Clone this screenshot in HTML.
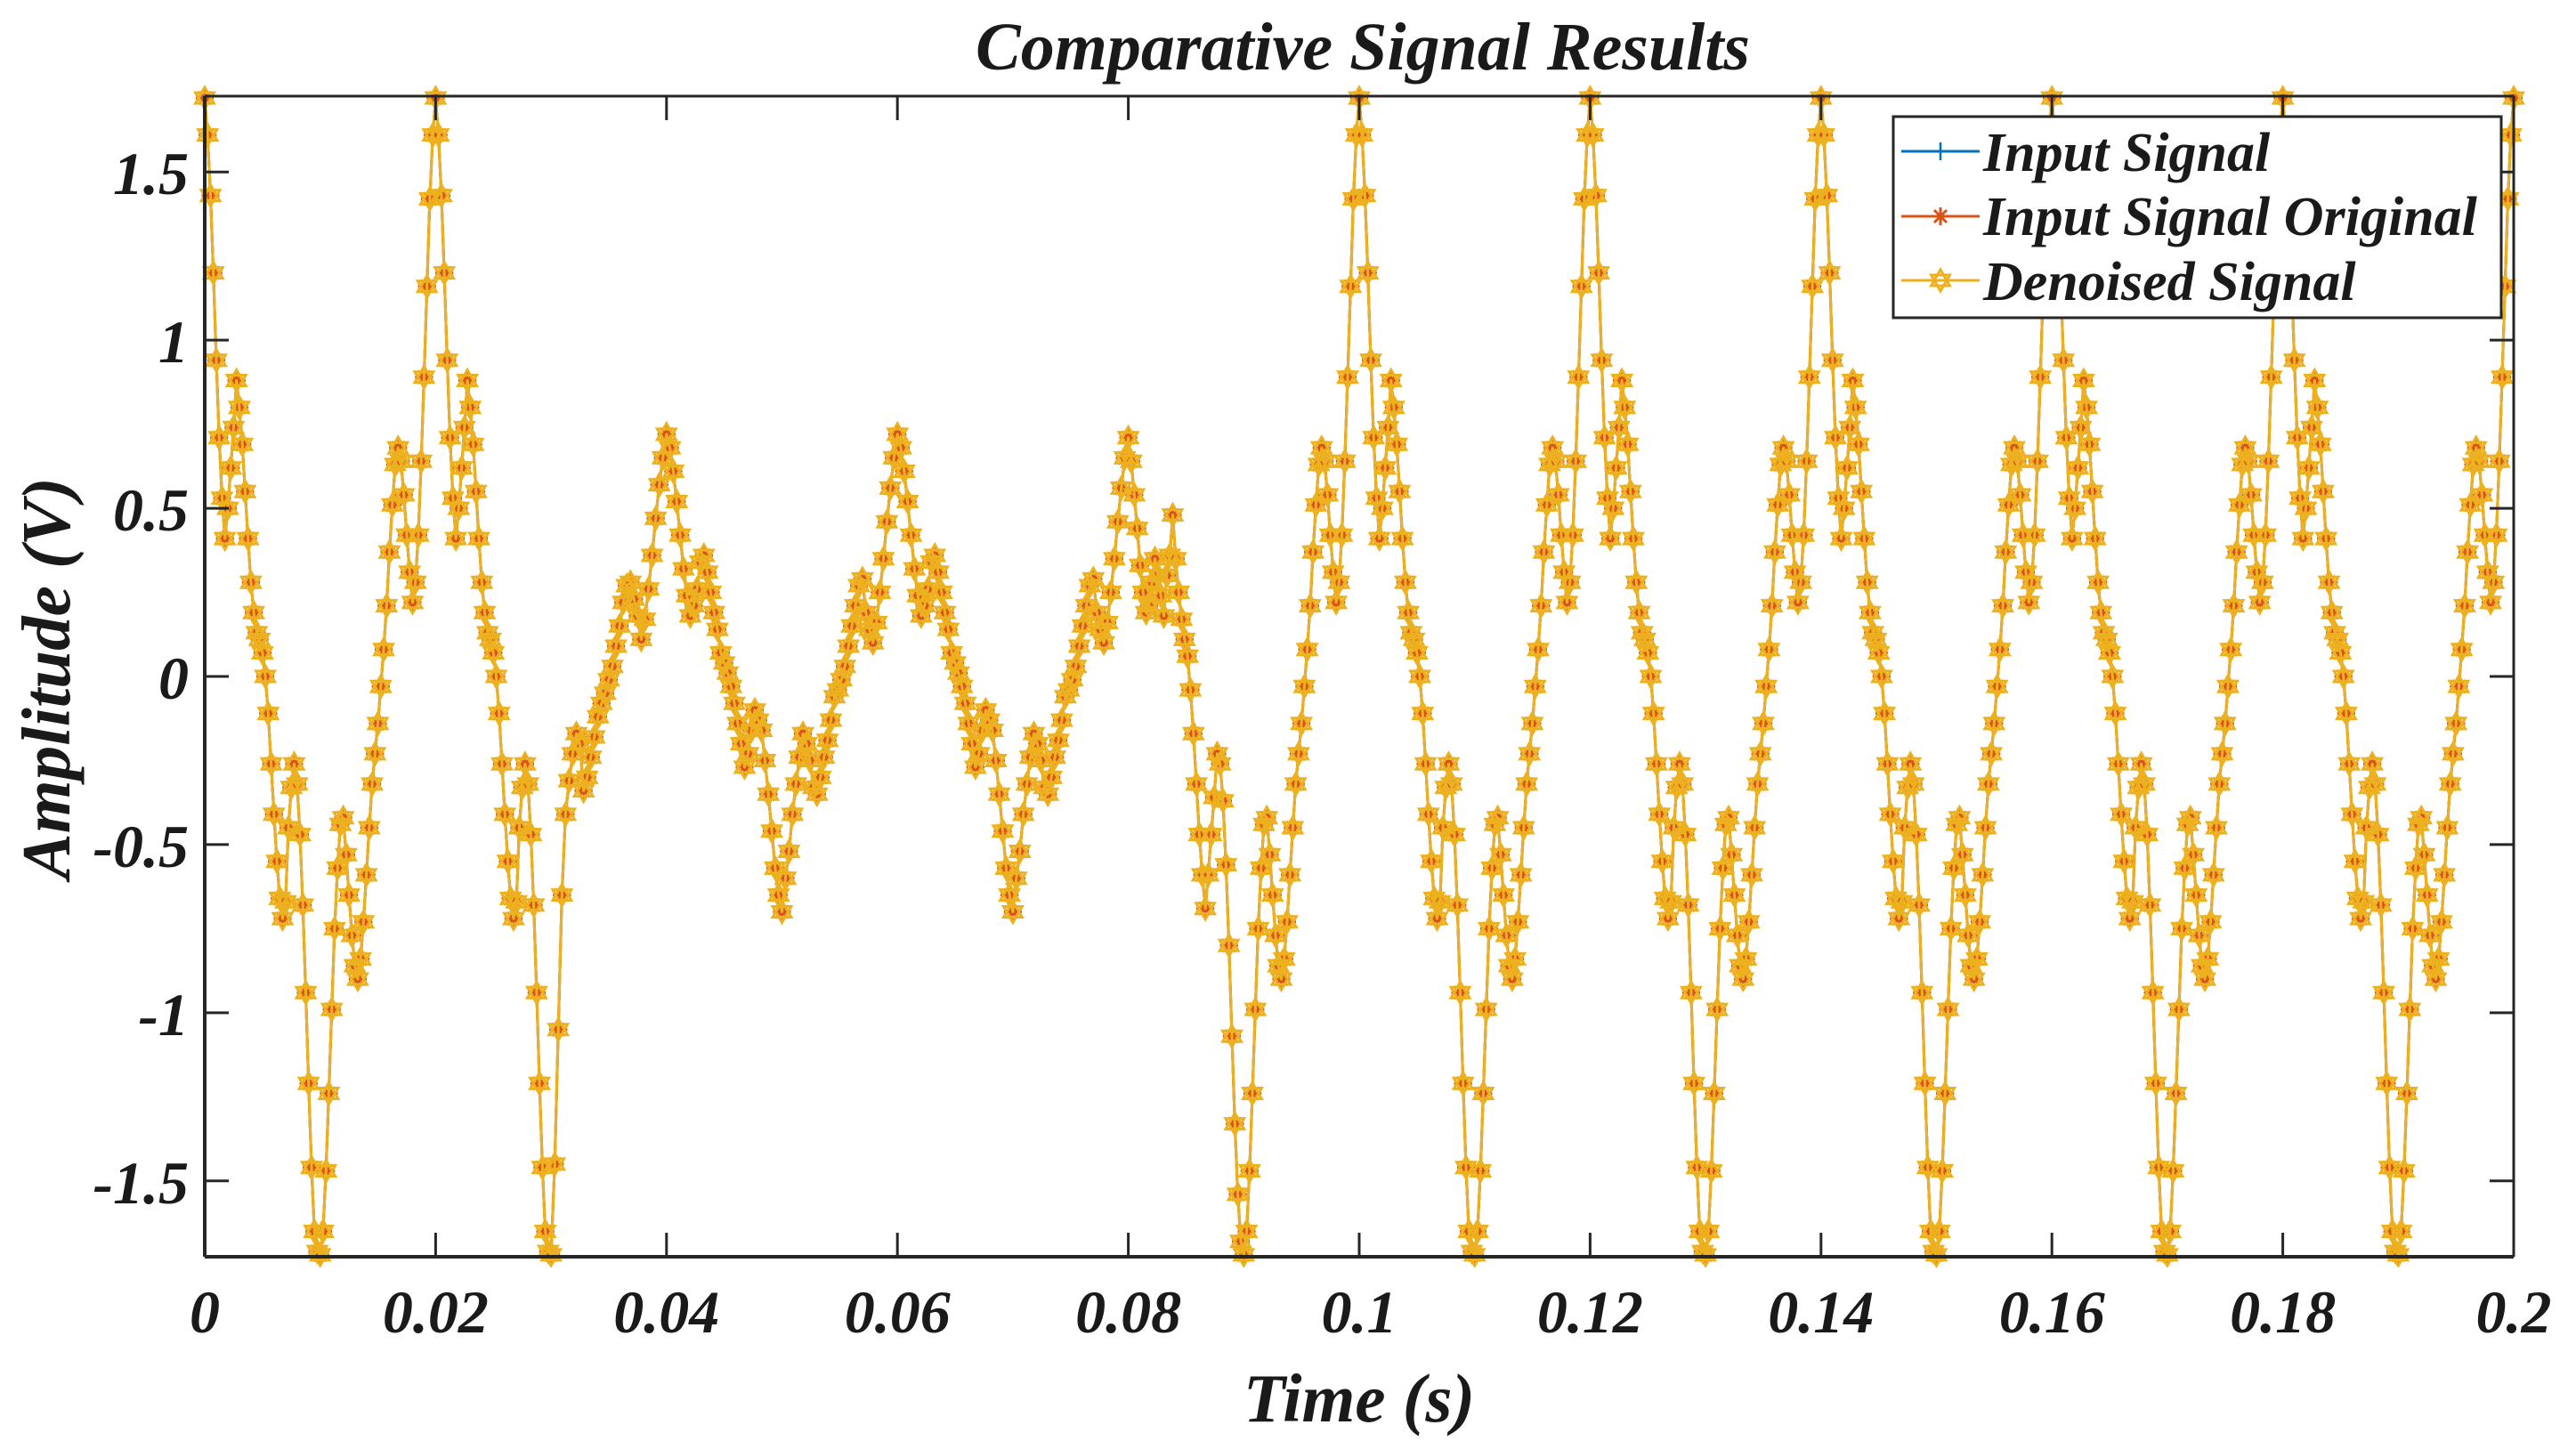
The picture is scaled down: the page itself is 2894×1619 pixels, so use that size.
<!DOCTYPE html>
<html><head><meta charset="utf-8"><title>Comparative Signal Results</title>
<style>
html,body{margin:0;padding:0;background:#fff;}
svg{display:block;}
text{font-family:"Liberation Serif",serif;font-weight:bold;font-style:italic;fill:#1a1a1a;}
</style></head>
<body>
<svg id="chart" width="2894" height="1619" viewBox="0 0 2894 1619" xmlns="http://www.w3.org/2000/svg">
<defs>
<g id="mk-plus"><path d="M-10 0H10M0 -10V10" stroke="#0072BD" stroke-width="2.5" fill="none"/></g>
<g id="mk-star"><path d="M-10 0H10M0 -10V10M-7 -7L7 7M-7 7L7 -7" stroke="#D95319" stroke-width="3" fill="none"/></g>
<g id="mk-hex"><path d="M0 -12L10.4 6L-10.4 6ZM0 12L-10.4 -6L10.4 -6Z" stroke="#EDB120" stroke-width="3" fill="none"/></g>
</defs>
<rect x="0" y="0" width="2894" height="1619" fill="#fff"/>
<text x="1531" y="78" font-size="76" text-anchor="middle">Comparative Signal Results</text>
<g id="plot"></g>
<g id="axes"></g>
<text x="1527" y="1597" font-size="77" text-anchor="middle">Time (s)</text>
<text transform="translate(78,762) rotate(-90)" font-size="77" text-anchor="middle">Amplitude (V)</text>
<g>
<rect x="2127" y="131" width="683" height="226" fill="#fff" stroke="#262626" stroke-width="3"/>
<g>
<line x1="2136" y1="170" x2="2224" y2="170" stroke="#0072BD" stroke-width="3"/>
<use href="#mk-plus" x="2180" y="170"/>
<text x="2228" y="192" font-size="62">Input Signal</text>
</g>
<g>
<line x1="2136" y1="243" x2="2224" y2="243" stroke="#D95319" stroke-width="3"/>
<use href="#mk-star" x="2180" y="243"/>
<text x="2228" y="264" font-size="62">Input Signal Original</text>
</g>
<g>
<line x1="2136" y1="315" x2="2224" y2="315" stroke="#EDB120" stroke-width="3"/>
<use href="#mk-hex" x="2180" y="315"/>
<text x="2228" y="337" font-size="62">Denoised Signal</text>
</g>
</g>
</svg>
<script>
// Half-cycle waveform samples (each spans 0.01 s)
var normalFall = [1.72,1.61,1.43,1.20,0.94,0.71,0.53,0.41,0.50,0.62,0.74,0.88,0.80,0.69,0.55,0.41,0.28,0.19,0.13,0.11,0.07,0.00,-0.11,-0.26,-0.41,-0.55,-0.66,-0.72,-0.67,-0.45,-0.33,-0.26,-0.32,-0.47,-0.68,-0.94,-1.21,-1.46,-1.65,-1.71];
var normalRise = [-1.72,-1.65,-1.47,-1.24,-0.99,-0.75,-0.57,-0.44,-0.42,-0.53,-0.65,-0.77,-0.86,-0.90,-0.84,-0.73,-0.59,-0.45,-0.32,-0.23,-0.14,-0.03,0.08,0.21,0.37,0.51,0.63,0.68,0.64,0.54,0.42,0.31,0.22,0.28,0.42,0.64,0.89,1.16,1.42,1.61];
var transRise = [-1.72,-1.45,-1.05,-0.65,-0.41,-0.31,-0.23,-0.17,-0.20,-0.34,-0.30,-0.24,-0.18,-0.12,-0.08,-0.05,-0.01,0.03,0.09,0.15,0.22,0.27,0.28,0.23,0.18,0.11,0.17,0.26,0.36,0.47,0.57,0.65];
var sagFall = [0.72,0.68,0.61,0.52,0.42,0.32,0.24,0.18,0.21,0.26,0.34,0.36,0.31,0.25,0.19,0.14,0.07,0.04,0.01,-0.03,-0.08,-0.14,-0.20,-0.27,-0.23,-0.16,-0.10,-0.13,-0.16,-0.25,-0.35,-0.46,-0.57,-0.65];
var sagRise = [-0.70,-0.60,-0.52,-0.41,-0.32,-0.24,-0.17,-0.20,-0.25,-0.33,-0.35,-0.30,-0.24,-0.19,-0.13,-0.06,-0.04,-0.01,0.03,0.09,0.15,0.21,0.27,0.29,0.19,0.14,0.10,0.16,0.25,0.35,0.46,0.56,0.65];
var transFall = [0.71,0.64,0.54,0.44,0.33,0.25,0.19,0.21,0.28,0.35,0.30,0.24,0.18,0.30,0.36,0.48,0.35,0.25,0.17,0.11,0.06,-0.04,-0.17,-0.32,-0.47,-0.59,-0.69,-0.59,-0.47,-0.36,-0.23,-0.26,-0.37,-0.56,-0.80,-1.07,-1.33,-1.54,-1.68];
// Sequence of half-cycles across 0..0.2 s
var halfSequence = ['NF','NR','NF','TR','SF','SR','SF','SR','TF','NR','NF','NR','NF','NR','NF','NR','NF','NR','NF','NR'];
var finalValue = 1.72;
var xTicks = [0,0.02,0.04,0.06,0.08,0.1,0.12,0.14,0.16,0.18,0.2];
var xTickLabels = ['0','0.02','0.04','0.06','0.08','0.1','0.12','0.14','0.16','0.18','0.2'];
var yTicks = [-1.5,-1,-0.5,0,0.5,1,1.5];
var yTickLabels = ['-1.5','-1','-0.5','0','0.5','1','1.5'];

var NS='http://www.w3.org/2000/svg';
var L=230,R=2824,T=108,B=1412,XMIN=0,XMAX=0.2,YMIN=-1.7255,YMAX=1.7255;
function sx(t){return L+(t-XMIN)/(XMAX-XMIN)*(R-L);}
function sy(v){return B-(v-YMIN)/(YMAX-YMIN)*(B-T);}
var shapes={NF:normalFall,NR:normalRise,TR:transRise,SF:sagFall,SR:sagRise,TF:transFall};
var times=[],vals=[];
halfSequence.forEach(function(k,h){
  var arr=shapes[k];
  for(var i=0;i<arr.length;i++){times.push(h*0.01+i*0.01/arr.length);vals.push(arr[i]);}
});
times.push(0.2);vals.push(finalValue);

var plot=document.getElementById('plot');
var axes=document.getElementById('axes');
var clip=document.createElementNS(NS,'clipPath');clip.setAttribute('id','pclip');
var cr=document.createElementNS(NS,'rect');cr.setAttribute('x',L-15);cr.setAttribute('y',T-15);cr.setAttribute('width',R-L+30);cr.setAttribute('height',B-T+30);
clip.appendChild(cr);document.querySelector('defs').appendChild(clip);
plot.setAttribute('clip-path','url(#pclip)');

var series=[{name:'input-signal',color:'#0072BD',mk:'#mk-plus'},{name:'input-signal-original',color:'#D95319',mk:'#mk-star'},{name:'denoised-signal',color:'#EDB120',mk:'#mk-hex'}];
series.forEach(function(s){
  var g=document.createElementNS(NS,'g');
  
  
  var d='';
  for(var i=0;i<times.length;i++){d+=(i?'L':'M')+sx(times[i]).toFixed(1)+' '+sy(vals[i]).toFixed(1);}
  var p=document.createElementNS(NS,'path');
  
  
  p.setAttribute('d',d);p.setAttribute('fill','none');p.setAttribute('stroke',s.color);p.setAttribute('stroke-width','3');p.setAttribute('stroke-linejoin','round');
  g.appendChild(p);
  for(var j=0;j<times.length;j++){
    var u=document.createElementNS(NS,'use');
    
    
    u.setAttribute('href',s.mk);u.setAttribute('x',sx(times[j]).toFixed(1));u.setAttribute('y',sy(vals[j]).toFixed(1));
    g.appendChild(u);
  }
  plot.appendChild(g);
});

function ln(x1,y1,x2,y2,w,name){
  var l=document.createElementNS(NS,'line');
  
  
  l.setAttribute('x1',x1);l.setAttribute('y1',y1);l.setAttribute('x2',x2);l.setAttribute('y2',y2);
  l.setAttribute('stroke','#262626');l.setAttribute('stroke-width',w);axes.appendChild(l);
}
function tx(x,y,s,anchor,name){
  var t=document.createElementNS(NS,'text');
  
  
  t.setAttribute('x',x);t.setAttribute('y',y);t.setAttribute('font-size','68');t.setAttribute('text-anchor',anchor);
  t.textContent=s;axes.appendChild(t);
}
ln(L,T,R,T,3,'top-border');ln(L,B,R,B,4,'x-axis-line');ln(L,T,L,B,4,'y-axis-line');ln(R,T,R,B,3,'right-border');
xTicks.forEach(function(v,i){
  var x=sx(v);
  ln(x,B,x,B-27,3,'x-tick');ln(x,T,x,T+27,3,'x-tick-top');
  tx(x,1497,xTickLabels[i],'middle','x-tick-label');
});
yTicks.forEach(function(v,i){
  var y=sy(v);
  ln(L,y,L+27,y,3,'y-tick');ln(R,y,R-27,y,3,'y-tick-right');
  tx(212,y+25,yTickLabels[i],'end','y-tick-label');
});
</script>
</body></html>
